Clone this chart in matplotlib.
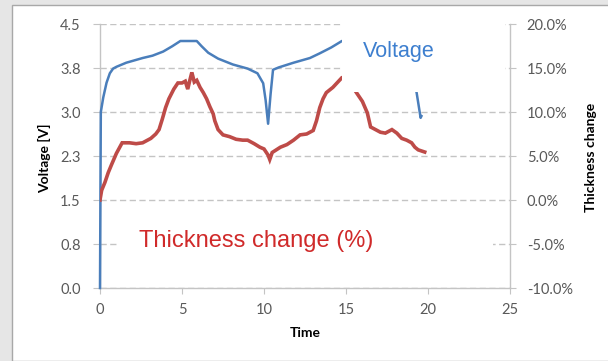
import matplotlib
matplotlib.use("Agg")
import matplotlib.pyplot as plt
from matplotlib.patches import Rectangle
from matplotlib.ticker import FuncFormatter

# voltage trace [V] vs time
volt_time = [0.0, 0.05, 0.2, 0.4, 0.6, 0.8, 1.0, 1.6, 2.6, 3.2, 3.85, 4.4, 4.9, 5.9,
             6.2, 6.6, 7.2, 8.1, 9.0, 9.6, 9.95, 10.1, 10.25, 10.4, 10.55, 10.9, 11.8,
             12.8, 13.4, 14.1, 14.75, 15.5, 18.5, 19.3, 19.55, 19.6]
volt_value = [0.0, 3.0, 3.25, 3.5, 3.66, 3.74, 3.77, 3.84, 3.92, 3.96, 4.03, 4.12, 4.21, 4.21,
              4.12, 4.01, 3.91, 3.81, 3.74, 3.66, 3.49, 3.2, 2.8, 3.3, 3.72, 3.76, 3.84,
              3.92, 4.0, 4.1, 4.21, 4.22, 3.8, 3.34, 2.9, 2.93]

# thickness change [%] vs time
thick_time = [0.0, 0.1, 0.3, 0.5, 0.7, 1.0, 1.35, 1.8, 2.2, 2.6, 2.9, 3.1, 3.4, 3.6, 3.8,
              4.0, 4.2, 4.5, 4.75, 5.0, 5.2, 5.35, 5.45, 5.6, 5.75, 5.9, 6.1, 6.3, 6.5,
              6.7, 6.9, 7.0, 7.2, 7.5, 7.9, 8.3, 8.7, 9.0, 9.4, 9.75, 10.0, 10.25, 10.35,
              10.5, 11.0, 11.4, 11.8, 12.2, 12.6, 13.0, 13.2, 13.4, 13.6, 13.8, 14.2, 14.5,
              14.75, 15.0, 15.3, 15.6, 16.0, 16.3, 16.5, 16.8, 17.1, 17.4, 17.8, 18.1,
              18.4, 18.7, 19.0, 19.2, 19.4, 19.8]
thick_value = [0.0, 1.1, 2.0, 3.1, 4.0, 5.3, 6.5, 6.5, 6.4, 6.5, 6.8, 7.0, 7.5, 8.0, 9.2,
               10.5, 11.5, 12.6, 13.3, 13.3, 13.5, 12.6, 13.4, 14.5, 13.4, 13.6, 12.8, 12.2, 11.5,
               10.6, 9.8, 9.0, 8.0, 7.4, 7.2, 6.9, 6.8, 6.8, 6.4, 6.0, 5.8, 5.1, 4.6,
               5.4, 6.0, 6.3, 6.8, 7.4, 7.5, 7.9, 9.0, 10.5, 11.5, 12.2, 12.8, 13.4,
               13.9, 14.0, 13.3, 12.3, 11.2, 9.9, 8.3, 8.0, 7.7, 7.6, 8.0, 7.6,
               7.0, 6.8, 6.5, 6.0, 5.7, 5.45]

volt_ticks = [0.0, 0.75, 1.5, 2.25, 3.0, 3.75, 4.5]
thick_ticks = [-10, -5, 0, 5, 10, 15, 20]
time_ticks = [0, 5, 10, 15, 20, 25]

W, H = 608, 361
BLUE, RED = "#4a7ebb", "#be4b48"
GRID, TICKC = "#c4c4c4", "#595959"
plt.rcParams["font.family"] = ["Lato", "DejaVu Sans"]


def fx(px):
    return px / W


def fy(py):
    return 1 - py / H


fig = plt.figure(figsize=(W / 100, H / 100), dpi=100, facecolor="#e6e6e6")
fig.add_artist(Rectangle((fx(12), 0), 1, fy(5), transform=fig.transFigure,
                         facecolor="white", edgecolor="#a8a8a8", lw=1, zorder=-1))

ax = fig.add_axes([fx(100), fy(288), fx(510) - fx(100), fy(24) - fy(288)])
ax.set_facecolor("none")
ax2 = ax.twinx()

ax2.plot(thick_time, thick_value, color=RED, lw=2.6, solid_joinstyle="miter", zorder=3)
# blue drawn on the top axes so the t=0 rise shows over the spine
ax2.plot(volt_time, [v / 4.5 * 30 - 10 for v in volt_value], color=BLUE, lw=1.8,
         solid_joinstyle="round", zorder=2, clip_on=False)

ax.set_xlim(0, 25)
ax.set_ylim(0, 4.5)
ax2.set_ylim(-10, 20)
ax.set_xticks(time_ticks)
ax.set_yticks(volt_ticks)
ax.yaxis.set_major_formatter(FuncFormatter(lambda v, _: f"{v + 1e-9:.1f}"))
ax2.set_yticks(thick_ticks)
ax2.yaxis.set_major_formatter(FuncFormatter(lambda v, _: f"{v:.1f}%"))

ax.grid(axis="y", color=GRID, lw=1.0, dashes=(4.5, 2.5))
for a in (ax, ax2):
    for s in a.spines.values():
        s.set_visible(False)
ax.spines["left"].set_visible(True)
ax.spines["bottom"].set_visible(True)
ax2.spines["right"].set_visible(True)
for s in (ax.spines["left"], ax.spines["bottom"], ax2.spines["right"]):
    s.set_color(GRID)
    s.set_linewidth(1.0)

ax.tick_params(axis="y", length=5, color=GRID, labelsize=10.5, labelcolor=TICKC, pad=9)
ax.tick_params(axis="x", length=4, color=GRID, labelsize=10.5, labelcolor=TICKC, pad=7)
ax2.tick_params(axis="y", length=4, color=GRID, labelsize=10.5, labelcolor=TICKC, pad=8)

ax.set_xlabel("Time", fontsize=10, fontweight="bold")
ax.xaxis.set_label_coords(0.5, (288 - 333) / 264)
ax.xaxis.label.set_va("center")
ax.set_ylabel("Voltage [V]", fontsize=10, fontweight="bold")
ax.yaxis.set_label_coords((45 - 100) / 410, (288 - 158) / 264)
ax.yaxis.label.set_va("center")
ax2.set_ylabel("Thickness change", fontsize=10, fontweight="bold", rotation=90)
ax2.yaxis.set_label_coords((591 - 100) / 410, (288 - 157) / 264)
ax2.yaxis.label.set_va("center")

# white label boxes that sit over the plot, as in the original sheet
fig.add_artist(Rectangle((fx(342), fy(92)), fx(505) - fx(342), fy(10) - fy(92),
                         transform=fig.transFigure, facecolor="white", lw=0, zorder=5))
fig.add_artist(Rectangle((fx(118), fy(282)), fx(493) - fx(118), fy(207) - fy(282),
                         transform=fig.transFigure, facecolor="white", lw=0, zorder=5))
fig.text(fx(363), fy(57), "Voltage", color="#3d7fcf", fontsize=15.5,
         family="Liberation Sans", va="baseline", ha="left", zorder=6)
fig.text(fx(139), fy(247), "Thickness change (%)", color="#d02a2a", fontsize=17,
         family="Liberation Sans", va="baseline", ha="left", zorder=6)

fig.savefig("out.png", dpi=100, facecolor=fig.get_facecolor())
